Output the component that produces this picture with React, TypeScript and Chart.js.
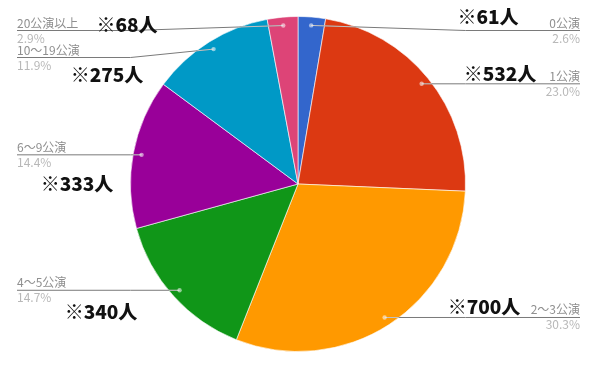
import React, { useEffect, useRef } from "react";
import { Chart, registerables } from "chart.js";

Chart.register(...registerables);

// 公演数別の人数
const categories = ["0公演", "1公演", "2～3公演", "4～5公演", "6～9公演", "10～19公演", "20公演以上"];
const counts = [61, 532, 700, 340, 333, 275, 68];
const sliceColors = ["#3366cc", "#dc3912", "#ff9900", "#109618", "#990099", "#0099c6", "#dd4477"];
const countLabels = counts.map((c) => `※${c}人`);

// centre points of the bold headcount callouts
const calloutPos: [number, number][] = [
  [488, 17],
  [500, 74],
  [484, 307],
  [101, 312],
  [77, 184],
  [107, 75],
  [127, 25],
];

const SMALL_FONT = '12px "Noto Sans CJK JP", "Noto Sans", sans-serif';
const BIG_FONT = '900 19px "Noto Sans CJK JP", "Noto Sans", sans-serif';

const total = counts.reduce((a, b) => a + b, 0);
const percentLabels = counts.map((c) => ((c / total) * 100).toFixed(1) + "%");

const leaderLabels = {
  id: "leaderLabels",
  afterDraw(chart: any) {
    const ctx: CanvasRenderingContext2D = chart.ctx;
    const arcs = chart.getDatasetMeta(0).data;
    if (!arcs.length) return;
    const first = arcs[0].getProps(["x", "y", "outerRadius"], true);
    const cx = first.x;
    const cy = first.y;
    const R = first.outerRadius;
    const leftEdge = 17;
    const rightEdge = 580;
    const minY = 30.5;
    const gap = 27;

    const items = arcs.map((arc: any, i: number) => {
      const p = arc.getProps(["startAngle", "endAngle"], true);
      const mid = (p.startAngle + p.endAngle) / 2;
      const dx = cx + Math.cos(mid) * R * 0.95;
      const dy = cy + Math.sin(mid) * R * 0.95;
      return { i, dx, dy, right: Math.cos(mid) >= 0, lineY: dy };
    });

    for (const side of [true, false]) {
      const list = items.filter((it: any) => it.right === side).sort((a: any, b: any) => a.dy - b.dy);
      let prev = -Infinity;
      for (const it of list) {
        it.lineY = Math.max(it.dy, minY, prev + gap);
        prev = it.lineY;
      }
    }

    ctx.save();
    for (const it of items) {
      const bendX = it.right ? cx + R : cx - R;
      const endX = it.right ? rightEdge : leftEdge;
      ctx.beginPath();
      ctx.moveTo(it.dx, it.dy);
      ctx.lineTo(bendX, it.lineY);
      ctx.lineTo(endX, it.lineY);
      ctx.strokeStyle = "#7a7a7a";
      ctx.lineWidth = 1;
      ctx.stroke();

      // part of the leader inside the pie is drawn light
      ctx.save();
      ctx.beginPath();
      ctx.arc(cx, cy, R, 0, Math.PI * 2);
      ctx.clip();
      ctx.beginPath();
      ctx.moveTo(it.dx, it.dy);
      ctx.lineTo(bendX, it.lineY);
      ctx.strokeStyle = "rgba(255,255,255,0.55)";
      ctx.stroke();
      ctx.restore();

      ctx.beginPath();
      ctx.arc(it.dx, it.dy, 2.2, 0, Math.PI * 2);
      ctx.fillStyle = "rgba(255,255,255,0.55)";
      ctx.fill();

      ctx.font = SMALL_FONT;
      ctx.textAlign = it.right ? "right" : "left";
      ctx.textBaseline = "alphabetic";
      ctx.fillStyle = "#8f8f8f";
      ctx.fillText(categories[it.i], endX, it.lineY - 3);
      ctx.fillStyle = "#b8b8b8";
      ctx.fillText(percentLabels[it.i], endX, it.lineY + 12);
    }

    ctx.font = BIG_FONT;
    ctx.textAlign = "center";
    ctx.textBaseline = "middle";
    ctx.fillStyle = "#111111";
    countLabels.forEach((t, i) => {
      const [x, y] = calloutPos[i];
      ctx.fillText(t, x, y);
    });
    ctx.restore();
  },
};

export default function App() {
  const canvasRef = useRef<HTMLCanvasElement | null>(null);

  useEffect(() => {
    document.body.style.margin = "0";
    const canvas = canvasRef.current;
    if (!canvas) return;
    const chart = new Chart(canvas, {
      type: "pie",
      data: {
        labels: categories,
        datasets: [
          {
            data: counts,
            backgroundColor: sliceColors,
            borderColor: "rgba(255,255,255,0.6)",
            borderWidth: 1,
          },
        ],
      },
      options: {
        responsive: false,
        animation: false,
        layout: { padding: { top: 16, bottom: 17, left: 1, right: 0 } },
        plugins: {
          legend: { display: false },
          tooltip: { enabled: false },
        },
      },
      plugins: [leaderLabels],
    });
    return () => chart.destroy();
  }, []);

  return (
    <div style={{ width: 595, height: 369, background: "#ffffff" }}>
      <canvas ref={canvasRef} width={595} height={369} />
    </div>
  );
}
